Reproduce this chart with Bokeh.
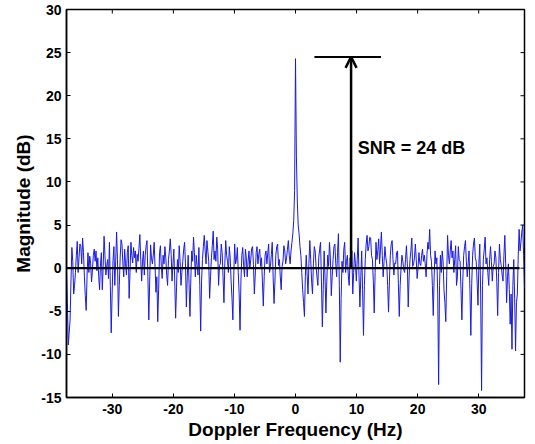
import numpy as np
from bokeh.plotting import figure
from bokeh.models import FixedTicker, Arrow, OpenHead, Label
from bokeh.embed import file_html
from bokeh.resources import INLINE

# ---- data ----
freq_min, freq_max = -37.5, 37.5
magnitude_db = [
    -0.5, -4.0, -8.9, -7.5, -6.0, -1.5, 2.4, 0.8, -3.0, -2.0, -0.5, 1.5, 3.1, -0.5, 1.2, 2.8,
    2.5, 0.5, 3.5, 1.8, -1.0, -3.2, -4.9, -0.8, 1.8, -0.5, 1.4, 0.5, -1.6, -0.2, 1.5, 2.2,
    0.8, 2.0, -0.3, 1.2, -1.0, -2.5, 0.5, 1.8, -2.5, 0.2, 3.7, 1.5, -0.8, 0.3, 1.0, -1.2,
    3.0, -2.0, -7.5, -3.0, 0.9, 2.5, -2.0, 0.8, 4.2, 1.0, -5.6, -2.0, 1.2, 3.3, 2.8, 0.6,
    -1.0, 2.2, 0.5, -0.8, 1.8, 2.6, -3.5, -0.5, 3.0, 1.5, 0.6, 2.4, 1.2, 2.0, -0.5, 1.6,
    0.8, 2.3, 3.9, 1.0, -1.5, 0.8, 2.0, -0.8, 1.5, 2.6, 3.2, -1.0, -6.0, -1.5, 2.7, 1.2,
    0.5, 1.5, 3.0, 0.2, -2.8, -1.0, -6.2, -2.5, 1.8, 2.6, 0.2, -1.2, 1.5, 0.5, 2.5, 1.2,
    -0.8, -2.0, 1.0, 2.0, 3.4, 1.6, -1.5, 0.5, 2.2, -1.5, -5.8, -2.2, 1.0, -0.5, 2.6, 0.8,
    -2.0, -0.5, 0.8, 2.2, 3.0, 0.5, -4.5, -1.0, 1.5, -1.8, -5.6, -1.2, 2.0, 0.8, 3.6, 1.8,
    -1.0, 1.5, 0.3, -0.8, 2.4, -2.0, -7.3, -1.5, 1.0, 2.5, 3.8, 2.0, 0.5, 3.2, 2.0, 0.8,
    -3.5, -1.0, 1.2, 2.6, 4.3, 1.0, 2.0, 0.8, 3.6, 2.2, -2.0, 0.3, 0.5, 2.8, 1.8, -1.0,
    -4.0, 0.5, 3.2, 1.5, 0.8, -0.5, 2.5, 1.2, -1.5, -3.5, -6.0, -0.8, 2.8, 0.5, 1.0, 2.4,
    -0.5, -3.0, -7.2, -1.5, 1.5, 2.4, 0.3, -1.0, 2.2, 1.2, -1.0, 0.8, 2.0, 0.0, 1.0, 2.3,
    2.5, 0.4, -3.0, -0.8, 1.8, 2.5, 0.5, 1.6, 2.2, 0.2, 1.2, -1.5, -4.4, -1.0, 1.5, 2.0,
    0.5, 1.8, 2.8, -0.5, 0.2, 1.6, 3.0, -1.0, -4.1, -1.5, 1.5, 2.5, 2.8, 0.3, 1.0, -1.0,
    -2.5, 0.2, 0.8, 2.6, 2.0, 0.5, 1.2, 2.2, 3.2, 1.5, 0.5, 2.0, 3.0, 4.0, 5.5, 9.0,
    24.3, 13.0, 7.9, 5.0, 4.0, 2.5, 1.5, -0.5, -2.5, -4.0, -5.6, -1.0, 1.5, -0.8, -3.0, 0.5,
    3.2, 1.0, -1.5, -3.0, 0.5, 2.5, 2.0, 0.2, -1.0, -2.0, 1.2, 2.2, 3.0, -1.5, -6.8, -2.5,
    2.0, -1.0, -5.2, -1.5, 1.5, 0.2, 3.0, 1.2, -3.2, -1.0, 1.0, 2.5, 2.8, 0.5, -1.0, 1.8,
    4.0, -2.0, -10.9, -3.5, 0.8, -0.5, 2.2, 3.0, -0.5, 0.8, 1.5, -0.8, -2.0, 1.2, 0.5, 2.0,
    -3.0, -0.5, 1.8, 0.5, -1.5, 1.0, 3.5, -0.8, -4.5, -1.0, 2.0, -2.5, -7.8, -2.0, 1.0, 2.8,
    3.8, 2.0, 2.5, 3.6, 3.5, 1.5, 1.0, -1.5, -5.2, -0.5, 3.0, 1.0, 2.0, 3.4, 0.5, 2.2,
    4.2, 1.5, -1.0, 0.8, 2.5, 1.2, 0.5, -2.0, -5.1, -1.5, 1.5, 2.8, 3.2, 1.0, -0.8, 0.6,
    0.5, 1.8, 2.0, -1.8, -5.6, -2.0, 0.0, 1.5, 0.8, -0.2, -0.5, 1.0, 2.6, 0.5, -4.5, -1.0,
    1.0, 2.0, 3.5, 0.2, 0.5, 1.2, 2.8, 1.0, -1.2, 0.0, 1.8, 0.6, 0.3, 1.5, 2.2, 0.8,
    1.5, 0.5, -1.0, 1.6, 3.0, 2.2, 4.5, 1.5, 0.8, -2.0, -5.5, -1.0, 2.0, 0.5, 1.2, -3.0,
    -13.5, -2.0, 1.5, -0.5, 2.0, 0.8, -2.5, -4.0, -6.2, -1.0, 3.8, 1.5, 0.5, 2.0, 3.2, 1.2,
    2.0, -0.5, 1.0, 2.6, -2.0, -1.0, 2.5, 1.0, 0.8, -2.5, -6.0, -1.5, 1.5, 2.5, 3.2, 0.8,
    -1.0, 0.5, 2.0, -2.5, -7.8, -1.8, 1.5, 2.8, 3.5, 1.2, 0.8, -1.5, -4.3, 0.5, 2.8, -3.0,
    -14.2, -2.0, 1.0, 2.2, 3.6, 0.5, 1.2, -0.5, -2.0, 1.0, 2.5, 0.8, -1.5, 0.2, 0.5, 2.0,
    1.2, -1.5, -5.5, -0.5, 2.8, 1.0, 0.3, -0.8, -1.5, 1.5, 3.8, 0.5, -4.0, -1.0, 0.5, -2.5,
    -6.5, -3.0, -9.4, -2.0, 1.0, -3.5, -9.6, -4.0, -3.0, 1.5, 4.5, 2.0, 3.0, 4.2, 5.0, 1.5,
    -2.3,
]
freq_hz = np.linspace(freq_min, freq_max, len(magnitude_db))

x_ticks = [-30, -20, -10, 0, 10, 20, 30]
x_tick_labels = ["-30", "-20", "-10", "0", "10", "20", "30"]
y_ticks = [-15, -10, -5, 0, 5, 10, 15, 20, 25, 30]
y_tick_labels = ["-15", "-10", "-5", "0", "5", "10", "15", "20", "25", "30"]
y_min, y_max = -15, 30

zero_line_x = [-37.5, 36.7]
snr_arrow_x = 9.1
snr_peak_db = 24.5
snr_bar_x = [3.1, 14.0]
snr_text = "SNR = 24 dB"
snr_text_pos = (10.2, 13.9)
x_label_text = "Doppler Frequency (Hz)"
y_label_text = "Magnitude (dB)"

FONT = "Liberation Sans"
FRAME_W, FRAME_H = 458, 388
TICK_PX = 4

p = figure(width=535, height=444, x_range=(freq_min, freq_max), y_range=(y_min, y_max),
           output_backend="svg", toolbar_location=None,
           min_border_left=66, min_border_right=11, min_border_top=9, min_border_bottom=47,
           background_fill_color="white", border_fill_color="white")
p.grid.visible = False
p.outline_line_color = "black"
p.outline_line_width = 1.5

p.line(freq_hz, magnitude_db, line_color="#1a1ae0", line_width=1)
p.line(zero_line_x, [0, 0], line_color="black", line_width=2.2)

# inward tick marks on the top and right edges of the box
dy = TICK_PX * (y_max - y_min) / FRAME_H
dx = TICK_PX * (freq_max - freq_min) / FRAME_W
p.segment(x0=x_ticks, y0=[y_max] * len(x_ticks), x1=x_ticks, y1=[y_max - dy] * len(x_ticks),
          line_color="black", line_width=1)
p.segment(x0=[freq_max] * len(y_ticks), y0=y_ticks, x1=[freq_max - dx] * len(y_ticks), y1=y_ticks,
          line_color="black", line_width=1)

# SNR annotation
p.line(snr_bar_x, [snr_peak_db, snr_peak_db], line_color="black", line_width=2)
p.add_layout(Arrow(end=OpenHead(size=11, line_width=2.5, line_color="black"),
                   x_start=snr_arrow_x, y_start=0, x_end=snr_arrow_x, y_end=snr_peak_db,
                   line_width=2.5, line_color="black"))
p.add_layout(Label(x=snr_text_pos[0], y=snr_text_pos[1], text=snr_text,
                   text_font=FONT, text_font_size="18px", text_font_style="bold",
                   text_baseline="middle", text_color="black"))

for ax in (p.xaxis[0], p.yaxis[0]):
    ax.axis_line_color = "black"
    ax.axis_line_width = 1.5
    ax.major_tick_in = TICK_PX
    ax.major_tick_out = 0
    ax.minor_tick_line_color = None
    ax.major_tick_line_color = "black"
    ax.major_label_text_font = FONT
    ax.major_label_text_font_size = "14px"
    ax.major_label_text_font_style = "bold"
    ax.major_label_text_color = "black"
    ax.axis_label_text_font = FONT
    ax.axis_label_text_font_size = "19px"
    ax.axis_label_text_font_style = "bold"
    ax.axis_label_text_color = "black"

p.xaxis.ticker = FixedTicker(ticks=x_ticks)
p.yaxis.ticker = FixedTicker(ticks=y_ticks)
p.xaxis.major_label_overrides = dict(zip(x_ticks, x_tick_labels))
p.yaxis.major_label_overrides = dict(zip(y_ticks, y_tick_labels))
p.xaxis.axis_label = x_label_text
p.yaxis.axis_label = y_label_text
p.xaxis.major_label_standoff = 6
p.xaxis.axis_label_standoff = 2
p.yaxis.major_label_standoff = 5
p.yaxis.axis_label_standoff = 4

open("out.html", "w").write(file_html(p, INLINE))
